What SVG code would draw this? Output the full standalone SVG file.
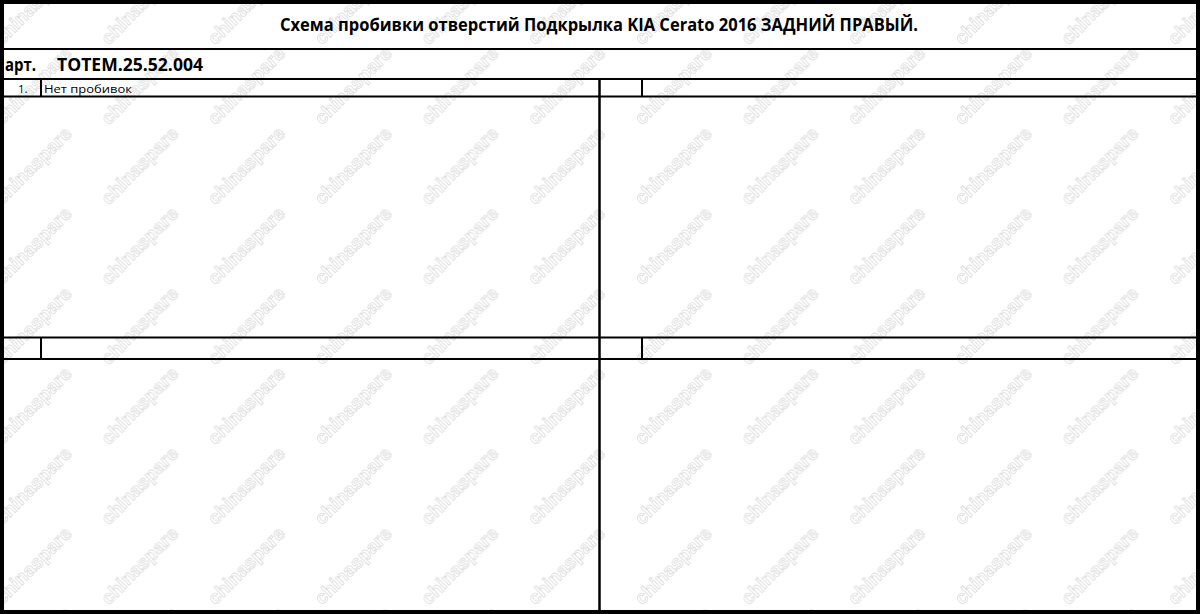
<svg xmlns="http://www.w3.org/2000/svg" width="1200" height="614" viewBox="0 0 1200 614">
  <style>
    .ln { stroke: #000; stroke-width: 2; fill: none; }
    .thick { stroke: #000; stroke-width: 4; fill: none; }
    .wm { font-family: "Liberation Sans", Arial, sans-serif; font-weight: bold; font-size: 19px; fill: #fff; stroke: #dedede; stroke-width: 0.9; }
    .title { font-family: "Open Sans", "Liberation Sans", Arial, sans-serif; font-weight: bold; font-size: 17px; fill: #000; }
    .art { font-family: "Open Sans", "Liberation Sans", Arial, sans-serif; font-weight: bold; font-size: 17px; fill: #000; }
    .small { font-family: "Open Sans", "Liberation Sans", Arial, sans-serif; font-size: 11.5px; fill: #000; }
  </style>
  <defs>
    <pattern id="wmp" patternUnits="userSpaceOnUse" x="-20" y="-34" width="106.67" height="80">
      <text class="wm" x="53.3" y="46" text-anchor="middle" transform="rotate(-45 53.3 40)">chinaspare</text>
    </pattern>
  </defs>
  <rect x="0" y="0" width="1200" height="614" fill="#fff"/>
  <rect x="0" y="0" width="1200" height="614" fill="url(#wmp)"/>

  <g id="connectors">
    <rect class="thick" x="2" y="2" width="1196" height="610"/>
    <line class="ln" x1="2" y1="49" x2="1198" y2="49"/>
    <line class="ln" x1="2" y1="79" x2="1198" y2="79"/>
    <line class="ln" x1="2" y1="96.5" x2="1198" y2="96.5"/>
    <line class="ln" x1="2" y1="337.5" x2="1198" y2="337.5"/>
    <line class="ln" x1="2" y1="359" x2="1198" y2="359"/>
    <line class="ln" x1="599.5" y1="79" x2="599.5" y2="612" style="stroke-width:2.5"/>
    <line class="ln" x1="41" y1="79" x2="41" y2="96.5"/>
    <line class="ln" x1="642" y1="79" x2="642" y2="96.5"/>
    <line class="ln" x1="41" y1="337.5" x2="41" y2="359"/>
    <line class="ln" x1="642" y1="337.5" x2="642" y2="359"/>
  </g>

  <g id="title">
    <text class="title" x="599" y="31" text-anchor="middle" textLength="638" lengthAdjust="spacingAndGlyphs">Схема пробивки отверстий Подкрылка KIA Cerato 2016 ЗАДНИЙ ПРАВЫЙ.</text>
  </g>
  <g id="article">
    <text class="art" x="5" y="71" textLength="31" lengthAdjust="spacingAndGlyphs">арт.</text>
    <text class="art" x="57" y="71" textLength="146" lengthAdjust="spacingAndGlyphs">TOTEM.25.52.004</text>
  </g>
  <g id="row1">
    <text class="small" x="18" y="92.5">1.</text>
    <text class="small" x="44" y="92.5" textLength="88" lengthAdjust="spacingAndGlyphs">Нет пробивок</text>
  </g>
</svg>
